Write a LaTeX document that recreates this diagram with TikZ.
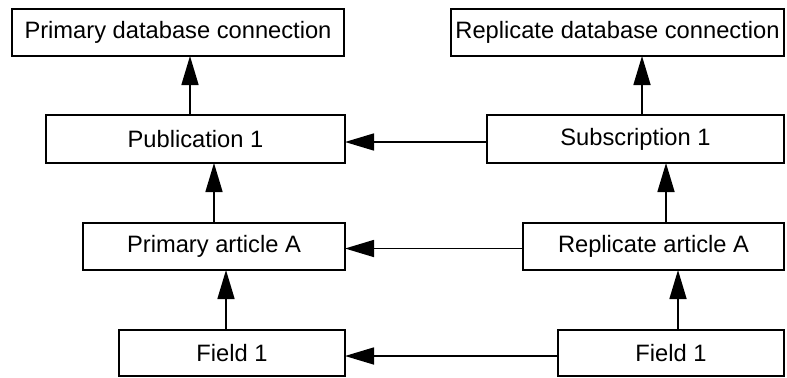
\documentclass[tikz,border=0pt]{standalone}
\usepackage{fontspec}
\setmainfont{Liberation Sans}
\usetikzlibrary{arrows.meta}
\begin{document}
\begin{tikzpicture}[x=1bp,y=-1bp,
  box/.style={draw, line width=1.6bp, anchor=north west, inner sep=0pt, outer sep=0pt,
    font=\fontsize{23.7bp}{28bp}\selectfont},
  arr/.style={line width=1.6bp, -{Triangle[length=29bp,width=17bp]}}]
\useasboundingbox (0,0) rectangle (787,377);
\node[box, minimum width=332bp, minimum height=47bp] (pdb) at (12,9) {Primary database connection};
\node[box, minimum width=299bp, minimum height=48bp] (pub) at (46,115) {Publication 1};
\node[box, minimum width=262bp, minimum height=47bp] (part) at (83,223) {Primary article A};
\node[box, minimum width=226bp, minimum height=46bp] (pf) at (119,330) {Field 1};
\node[box, minimum width=333bp, minimum height=47bp] (rdb) at (451,9) {Replicate database connection};
\node[box, minimum width=297bp, minimum height=48bp] (sub) at (487,115) {Subscription 1};
\node[box, minimum width=261bp, minimum height=47bp] (rart) at (523,223) {Replicate article A};
\node[box, minimum width=226bp, minimum height=46bp] (rf) at (558,330) {Field 1};
\coordinate (x1) at (190,0);
\coordinate (x2) at (214,0);
\coordinate (x3) at (226,0);
\coordinate (x4) at (642,0);
\coordinate (x5) at (666,0);
\coordinate (x6) at (678,0);
\draw[arr] (pub.north -| x1) -- (pdb.south -| x1);
\draw[arr] (part.north -| x2) -- (pub.south -| x2);
\draw[arr] (pf.north -| x3) -- (part.south -| x3);
\draw[arr] (sub.north -| x4) -- (rdb.south -| x4);
\draw[arr] (rart.north -| x5) -- (sub.south -| x5);
\draw[arr] (rf.north -| x6) -- (rart.south -| x6);
\draw[arr] ([yshift=-3bp]sub.west) -- ([yshift=-3bp]pub.east);
\draw[arr] ([yshift=-2bp]rart.west) -- ([yshift=-2bp]part.east);
\draw[arr] ([yshift=-3bp]rf.west) -- ([yshift=-3bp]pf.east);
\end{tikzpicture}
\end{document}
